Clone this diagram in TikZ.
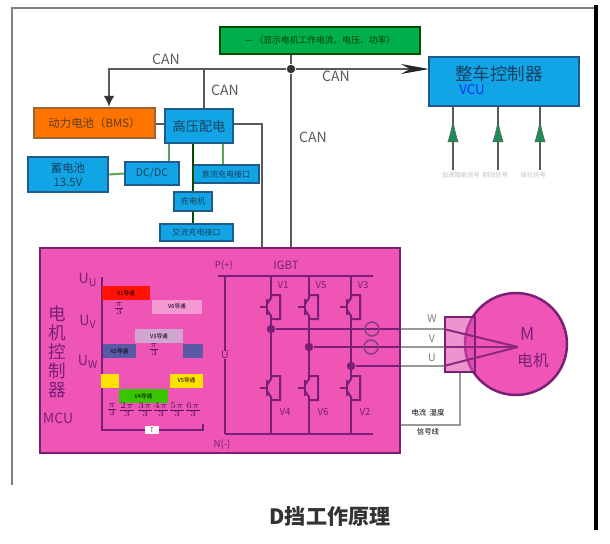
\documentclass[tikz,border=0pt]{standalone}
\usepackage{fontspec}
\setmainfont{Noto Sans CJK SC}
\usetikzlibrary{arrows.meta,calc}
\definecolor{magbg}{HTML}{EE55B5}
\definecolor{magdk}{HTML}{7A1F78}
\definecolor{skyb}{HTML}{12A5E6}
\definecolor{skydk}{HTML}{1F5C8C}
\definecolor{wiregray}{HTML}{5A5A5A}
\definecolor{arrowgreen}{HTML}{1F8A5A}
\tikzset{
  box/.style={draw=#1, line width=0.5mm, inner sep=0pt, align=center},
  skybox/.style={box=skydk, fill=skyb, text=skydk!70!black},
  wire/.style={draw=wiregray, line width=0.45mm},
  softwire/.style={draw=gray!70!green, line width=0.4mm},
  bus/.style={draw=magdk, line width=0.4mm},
  dot/.style={circle, fill=#1, inner sep=0pt, minimum size=1.7mm},
  canlabel/.style={text=wiregray, font=\fontsize{8}{8}\selectfont},
  pulse/.style={inner sep=0pt, minimum height=2.8mm, font=\fontsize{3.2}{3.2}\selectfont},
  anglab/.style={text=magdk!70!black, inner sep=0pt, font=\fontsize{3.5}{3.5}\selectfont},
  mcutext/.style={text=magdk, inner sep=0pt},
  igbt/.pic={
    \draw[bus] (-11,0) -- (-4,0) (-4,-8) -- (-4,8);
    \draw[bus] (-4,-3) -- (0,-9) -- (0,-12) -- (9,-12) -- (9,12) -- (0,12) -- (0,9) -- (-4,3);
  }
}

\begin{document}
\begin{tikzpicture}[x=0.2mm, y=-0.2mm, line width=0.3mm]
  \useasboundingbox (0,0) rectangle (610,543);
  % outer frame
  \coordinate (frameA) at (12,485);
  \coordinate (frameB) at (12,8);
  \coordinate (frameC) at (596,8);
  \coordinate (frameD) at (596,5);
  \coordinate (frameE) at (596,530);
  \draw[draw=gray, line width=0.4mm] (frameA) -- (frameB) -- (frameC);
  \draw[line width=0.8mm] (frameD) -- (frameE);

  % upper boxes
  \node[box=green!30!black, fill=green!55!black!70!cyan, minimum width=40mm, minimum height=5.4mm,
    text=green!25!black, font=\fontsize{5}{5}\selectfont] (disp) at (320,40.5)
    {— （显示电机工作电流、电压、功率）};
  \node[skybox, minimum width=30mm, minimum height=9.8mm] (vcu) at (504,81.5) {};
  \node[text=skydk!70!black, font=\fontsize{10}{10}\selectfont, inner sep=0pt] (vcuname) at (499,74) {整车控制器};
  \node[text=blue!70!skyb, font=\fontsize{7.5}{7.5}\selectfont, inner sep=0pt] (vcuen) at (472,90) {VCU};
  \node[box=brown!80!black, fill=orange!90!red, minimum width=24.2mm, minimum height=6mm,
    text=brown!50!black, font=\fontsize{6.5}{6.5}\selectfont] (bms) at (94.5,123) {动力电池（BMS）};
  \node[skybox, minimum width=13.6mm, minimum height=6.8mm, font=\fontsize{7.5}{7.5}\selectfont] (hv) at (199,126) {高压配电};
  \node[skybox, minimum width=16mm, minimum height=7mm, font=\fontsize{6.5}{8}\selectfont] (lvbat) at (68,174.5) {蓄电池\\13.5V};
  \node[skybox, minimum width=10.8mm, minimum height=4.6mm, font=\fontsize{6}{6}\selectfont] (dcdc) at (152,173.5) {DC/DC};
  \node[skybox, minimum width=13.2mm, minimum height=3.6mm, font=\fontsize{4.6}{4.6}\selectfont] (dcport) at (226,174) {直流充电接口};
  \node[skybox, minimum width=7.6mm, minimum height=3.8mm, font=\fontsize{4.8}{4.8}\selectfont] (charger) at (193,201.5) {充电机};
  \node[skybox, minimum width=14.6mm, minimum height=3.4mm, font=\fontsize{4.6}{4.6}\selectfont] (acport) at (196.5,232.5) {交流充电接口};

  % controller and motor
  \node[box=magdk, fill=magbg, minimum width=72mm, minimum height=41mm] (mcu) at (220,350.5) {};
  \node[circle, draw=magdk, line width=0.5mm, fill=magbg, minimum size=20.4mm, inner sep=0pt] (motor) at (516,344) {};
  \node[draw=magdk, line width=0.5mm, fill=magbg!85!magdk, fill opacity=0.6, minimum width=6mm,
    minimum height=11mm, inner sep=0pt] (plug) at (460,344.5) {};

  % CAN wiring
  \node[dot=black!80] (canJ) at (291,69) {};
  \coordinate (canL) at (109,69);
  \coordinate (canB) at (204,69);
  \coordinate (hvR) at (262,124);
  \coordinate (canR) at (429,69);
  \draw[wire, -{Latex[length=2.2mm,width=2.2mm,black!80]}] (canJ) -- (canL) -- (canL |- bms.north);
  \draw[wire] (canB) -- (canB |- hv.north);
  \draw[wire, -{Stealth[length=5.6mm,width=2mm,black!85]}] (canJ) -- (canR);
  \draw[wire] (disp.south -| canJ) -- (canJ) -- (canJ |- mcu.north);
  \draw[wire] (bms.east |- hvR) -- (hv.west |- hvR);
  \draw[wire] (hv.east |- hvR) -- (hvR) -- (hvR |- mcu.north);
  \node[canlabel] (canA) at (166,59) {CAN};
  \node[canlabel] (canC) at (225,90) {CAN};
  \node[canlabel] (canD) at (313,137) {CAN};
  \node[canlabel] (canE) at (336,76) {CAN};

  % high voltage branches
  \coordinate (brL) at (169,143);
  \coordinate (brR) at (223,143);
  \draw[softwire] (dcdc.north -| brL) -- (hv.south -| brL);
  \draw[softwire] (dcport.north -| brR) -- (hv.south -| brR);
  \draw[softwire] (lvbat.east) -- (dcdc.west);
  \draw[wire, draw=green!30!black] (hv.south -| charger) -- (charger.north);
  \draw[wire, draw=green!30!black] (charger.south) -- (charger.south |- acport.north);

  % VCU inputs
  \foreach \x/\nm in {453/a,498/b,540/c}{
    \coordinate (sig\nm) at (\x,170);
    \coordinate (tip\nm) at (\x,120);
    \draw[wire] (sig\nm) -- (sig\nm |- vcu.south);
    \draw[draw=wiregray, line width=0.1mm, -{Latex[length=4.4mm,width=2.2mm,fill=arrowgreen]}] (sig\nm) -- (tip\nm);
  }
  \node[text=gray!50, font=\fontsize{3.6}{3.6}\selectfont] (sigtxt) at (494,175)
    {加速踏板信号\ \ 制动信号\qquad 挡位信号};

  % MCU text
  \node[mcutext, align=center, font=\fontsize{10}{10.8}\selectfont] (mcuname) at (57,352) {电\\机\\控\\制\\器};
  \node[mcutext, font=\fontsize{8}{8}\selectfont] (mcuen) at (58,418) {MCU};
  \node[mcutext, font=\fontsize{8}{8}\selectfont] (uu) at (88,280) {U$_{\mathrm{U}}$};
  \node[mcutext, font=\fontsize{8}{8}\selectfont] (uv) at (88,322) {U$_{\mathrm{V}}$};
  \node[mcutext, font=\fontsize{8}{8}\selectfont] (uw) at (88,362) {U$_{\mathrm{W}}$};

  % conduction pulses
  \coordinate (axT) at (102,277);
  \coordinate (axO) at (102,430);
  \coordinate (axR) at (203,430);
  \draw[bus, line width=0.5mm] (axT) -- (axO) -- (axR) -- +(0,-6);
  \node[pulse, fill=red!85!orange, minimum width=9.6mm] (pa) at (126,293) {V1导通};
  \node[pulse, fill=magbg!60!white, minimum width=10mm] (pb) at (177,306.5) {V6导通};
  \node[pulse, fill=violet!35!white, minimum width=9.6mm] (pc) at (159,336) {V3导通};
  \node[pulse, fill=blue!30!gray, minimum width=6.6mm] (pd) at (119.5,351) {V2导通};
  \node[pulse, fill=blue!30!gray, minimum width=4mm] (pe) at (193,351) {};
  \node[pulse, fill=yellow!85!orange, minimum width=3.6mm] (pf) at (110,380.5) {};
  \node[pulse, fill=yellow!85!orange, minimum width=6.6mm] (pg) at (186.5,380.5) {V5导通};
  \node[pulse, fill=green!55!olive, minimum width=9.8mm] (ph) at (143.5,396) {V4导通};
  \foreach \x/\val/\nm in {112/{\pi}/a,127/{2\pi}/b,145/{3\pi}/c,161/{4\pi}/d,177/{5\pi}/e,193/{6\pi}/f}{
    \node[anglab] (ang\nm) at (\x,410) {$\frac{\val}{3}$};
  }
  \node[anglab] (angg) at (119,309) {$\frac{\pi}{3}$};
  \node[anglab] (angh) at (154,350) {$\frac{\pi}{3}$};
  \node[fill=white, text=magdk, inner sep=0pt, minimum width=2.8mm, minimum height=1.6mm,
    font=\fontsize{3.5}{3.5}\selectfont] (period) at (152,430) {T};

  % inverter
  \coordinate (busS) at (218,276);
  \coordinate (busA) at (225,276);
  \coordinate (busB) at (373,276);
  \coordinate (busC) at (225,434);
  \coordinate (busD) at (373,434);
  \draw[bus] (busS) -- (busB);
  \draw[bus] (busC) -- (busD);
  \draw[bus] (busA) -- (busC);
  \node[fill=magbg, text=magdk, inner sep=0.3pt, font=\fontsize{6}{6}\selectfont] (dcv) at (225,355) {U};
  \node[mcutext, font=\fontsize{5.5}{5.5}\selectfont] (pplus) at (224,265) {P(+)};
  \node[mcutext, font=\fontsize{5.5}{5.5}\selectfont] (nminus) at (222,444) {N(-)};
  \node[mcutext, font=\fontsize{6.5}{6.5}\selectfont] (igbtname) at (286,265) {IGBT};
  \foreach \x/\jy/\nm/\tp/\bt in {271/329/a/V1/V4,309/347/b/V5/V6,351/366/c/V3/V2}{
    \coordinate (top\nm) at (\x,276);
    \coordinate (hi\nm) at (\x,307);
    \coordinate (lo\nm) at (\x,388);
    \coordinate (bot\nm) at (\x,434);
    \pic at (hi\nm) {igbt};
    \pic at (lo\nm) {igbt};
    \draw[bus] (top\nm) -- ($(hi\nm)+(0,-12)$);
    \draw[bus] ($(hi\nm)+(0,12)$) -- ($(lo\nm)+(0,-12)$);
    \draw[bus] ($(lo\nm)+(0,12)$) -- (bot\nm);
    \node[dot=magdk] (jn\nm) at (\x,\jy) {};
    \node[mcutext, font=\fontsize{5.5}{5.5}\selectfont] (lbl\tp) at (\x+12,285) {\tp};
    \node[mcutext, font=\fontsize{5.5}{5.5}\selectfont] (lbl\bt) at (\x+14,412) {\bt};
  }

  % phase lines
  \coordinate (phW) at (518,347);
  \draw[bus] (jna) -- (mcu.east |- jna);
  \draw[bus] (jnb) -- (mcu.east |- jnb);
  \draw[bus] (jnc) -- (mcu.east |- jnc);
  \draw[draw=gray!80, line width=0.4mm] (mcu.east |- jna) -- (plug.west |- jna);
  \draw[draw=gray!80, line width=0.4mm] (mcu.east |- jnb) -- (plug.west |- jnb);
  \draw[draw=gray!80, line width=0.4mm] (mcu.east |- jnc) -- (plug.west |- jnc);
  \draw[bus, draw=magdk!85!magbg] (plug.west |- jna) -- (phW);
  \draw[bus, draw=magdk!85!magbg] (plug.west |- jnb) -- (phW);
  \draw[bus, draw=magdk!85!magbg] (plug.west |- jnc) -- (phW);
  \node[draw=violet!50!gray, line width=0.3mm, circle, minimum size=2.8mm, inner sep=0pt] (ringa) at (372,329) {};
  \node[draw=violet!50!gray, line width=0.3mm, circle, minimum size=2.8mm, inner sep=0pt] (ringb) at (371,347) {};
  \node[text=gray, inner sep=0pt, font=\fontsize{6}{6}\selectfont] (lw) at (432,319) {W};
  \node[text=gray, inner sep=0pt, font=\fontsize{6}{6}\selectfont] (lv) at (432,339) {V};
  \node[text=gray, inner sep=0pt, font=\fontsize{6}{6}\selectfont] (lu) at (432,358) {U};
  \node[mcutext, font=\fontsize{10}{10}\selectfont] (lm) at (528,334) {M};
  \node[mcutext, font=\fontsize{9}{9}\selectfont] (lmot) at (533,360) {电机};

  % sensor signal
  \coordinate (senB) at (460,425);
  \draw[draw=gray!80, line width=0.4mm] (plug.south -| senB) -- (senB) -- (senB -| mcu.east);
  \node[inner sep=0pt, font=\fontsize{4.2}{4.2}\selectfont] (sena) at (428,413) {电流\ \ 温度};
  \node[inner sep=0pt, font=\fontsize{4.2}{4.2}\selectfont] (senc) at (428,432) {信号线};

  \node[text=black!80, inner sep=0pt, font=\fontsize{12}{12}\selectfont\bfseries] (title) at (330,516) {D挡工作原理};
\end{tikzpicture}
\end{document}
